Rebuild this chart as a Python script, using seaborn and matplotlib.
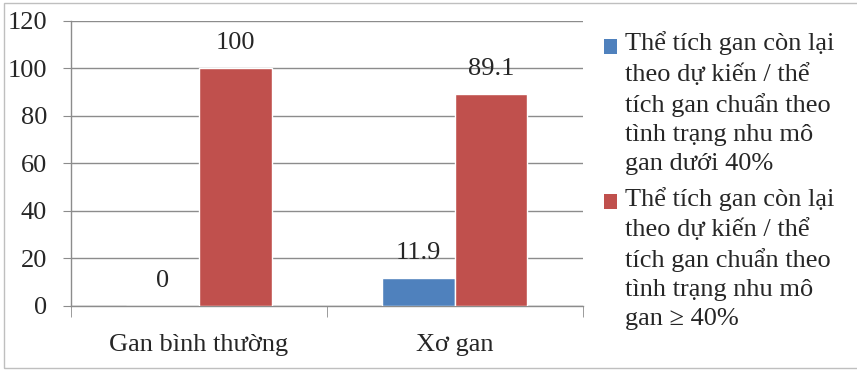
import pandas as pd
import numpy as np
import seaborn as sns
import matplotlib.pyplot as plt
from matplotlib.patches import Rectangle
from matplotlib.legend_handler import HandlerPatch

# data
categories = ['Gan bình thường', 'Xơ gan']
series = ['Thể tích gan còn lại\ntheo dự kiến / thể\ntích gan chuẩn theo\ntình trạng nhu mô\ngan dưới 40%',
          'Thể tích gan còn lại\ntheo dự kiến / thể\ntích gan chuẩn theo\ntình trạng nhu mô\ngan ≥ 40%']
under_40 = [0, 11.9]
over_40 = [100, 89.1]
colors = ['#4F81BD', '#C0504D']

df = pd.DataFrame({
    'group': categories * 2,
    'series': [series[0]] * 2 + [series[1]] * 2,
    'value': under_40 + over_40,
})

sns.set_style('white')
plt.rcParams['font.family'] = ['Liberation Serif', 'DejaVu Serif']
FS = 19

fig = plt.figure(figsize=(8.57, 3.70), dpi=100)
ax = fig.add_axes([0.0826, 0.173, 0.5971, 0.771])

sns.barplot(data=df, x='group', y='value', hue='series', palette=colors,
            width=0.57, saturation=1, ax=ax, zorder=3)

for c in ax.containers:
    ax.bar_label(c, fmt='%g', padding=10, fontsize=FS)

ax.set_ylim(0, 120)
ax.set_yticks(np.arange(0, 121, 20))
ax.set_xlim(-0.5, 1.5)
ax.set_xlabel('')
ax.set_ylabel('')
ax.grid(axis='y', color='#8c8c8c', linewidth=1, zorder=0)
ax.grid(axis='x', visible=False)

for s in ['top', 'right']:
    ax.spines[s].set_visible(False)
for s in ['left', 'bottom']:
    ax.spines[s].set_color('#8c8c8c')
    ax.spines[s].set_linewidth(1)

ax.tick_params(axis='y', length=6, color='#8c8c8c', pad=11, labelsize=FS, left=True)
ax.tick_params(axis='x', which='major', length=0, pad=20, labelsize=FS)
ax.set_xticks([-0.5, 0.5, 1.5], minor=True)
ax.tick_params(axis='x', which='minor', length=8, color='#8c8c8c', bottom=True)


# legend marker sits next to the first line of the wrapped label
class TopSquare(HandlerPatch):
    def create_artists(self, legend, orig_handle, xdescent, ydescent, width, height, fontsize, trans):
        p = Rectangle((-xdescent, -ydescent + 40), width, height,
                      facecolor=orig_handle.get_facecolor(), edgecolor='none', transform=trans)
        return [p]


handles, labels = ax.get_legend_handles_labels()
leg = ax.legend(handles, labels, loc='upper left', bbox_to_anchor=(0.705, 0.915),
                bbox_transform=fig.transFigure, frameon=False, fontsize=FS,
                handlelength=0.5, handleheight=0.5, handletextpad=0.3,
                borderpad=0, labelspacing=0.45, borderaxespad=0,
                handler_map={h: TopSquare() for h in handles})
for t in leg.get_texts():
    t.set_linespacing(1.4)

# light frame around the chart area
fig.patches.append(Rectangle((4 / 857, 2 / 370), 1.0, 365 / 370, transform=fig.transFigure,
                             fill=False, edgecolor='#bfbfbf', linewidth=1))

fig.savefig('out.png', dpi=100)
